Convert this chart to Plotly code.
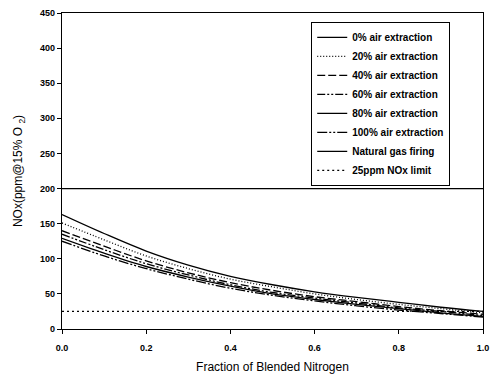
import plotly.graph_objects as go

x_frac = [0.0, 0.1, 0.2, 0.3, 0.4, 0.5, 0.6, 0.7, 0.8, 0.9, 1.0]
nox_0 = [163, 136, 111, 91, 75, 63, 53, 45, 38, 31, 25]
nox_20 = [151, 127, 104, 86, 71, 60, 50, 42, 35, 29, 23]
nox_40 = [140, 118, 97, 80, 66, 55, 46, 39, 32, 26, 21]
nox_60 = [135, 113, 93, 77, 63, 52, 44, 37, 30, 25, 19]
nox_80 = [129, 108, 89, 74, 61, 50, 42, 35, 29, 23, 18]
nox_100 = [125, 104, 86, 71, 58, 48, 40, 33, 27, 22, 17]
ng_x = [0.0, 1.0]
natural_gas = [200, 200]
limit_x = [0.0, 1.0]
limit_25 = [25, 25]

series = [
    ("0% air extraction", x_frac, nox_0, "solid"),
    ("20% air extraction", x_frac, nox_20, "1px,2px"),
    ("40% air extraction", x_frac, nox_40, "8px,3px"),
    ("60% air extraction", x_frac, nox_60, "8px,2px,2px,2px,2px,2px"),
    ("80% air extraction", x_frac, nox_80, "solid"),
    ("100% air extraction", x_frac, nox_100, "10px,2px,2px,2px,2px,2px"),
    ("Natural gas firing", ng_x, natural_gas, "solid"),
    ("25ppm NOx limit", limit_x, limit_25, "2px,3px"),
]

fig = go.Figure()
for name, xs, ys, dash in series:
    fig.add_trace(go.Scatter(
        x=xs, y=ys, name=name, mode="lines",
        line=dict(color="black", width=1.3, dash=dash, shape="spline"),
    ))

fig.update_layout(
    width=497, height=382,
    margin=dict(l=62, r=8, t=9, b=53),
    paper_bgcolor="white", plot_bgcolor="white",
    font=dict(family="Liberation Sans, Arial, sans-serif", color="black", size=9),
    showlegend=True,
    legend=dict(
        x=0.592, y=0.972, xanchor="left", yanchor="top",
        bgcolor="white", bordercolor="black", borderwidth=1,
        font=dict(size=10, weight="bold"),
        tracegroupgap=0, itemwidth=30,
    ),
    xaxis=dict(
        range=[0, 1.0], tickvals=[0, 0.2, 0.4, 0.6, 0.8, 1.0],
        ticktext=["0.0", "0.2", "0.4", "0.6", "0.8", "1.0"],
        ticks="outside", ticklen=4, tickwidth=1, tickcolor="black",
        ticklabelstandoff=6,
        showline=True, linecolor="black", linewidth=1.2, mirror=True,
        showgrid=False, zeroline=False,
        tickfont=dict(size=9, weight="bold"),
        title=dict(text="Fraction of Blended Nitrogen", font=dict(size=12), standoff=10),
    ),
    yaxis=dict(
        range=[0, 450], tickvals=[0, 50, 100, 150, 200, 250, 300, 350, 400, 450],
        ticks="outside", ticklen=4, tickwidth=1, tickcolor="black",
        showline=True, linecolor="black", linewidth=1.2, mirror=True,
        showgrid=False, zeroline=False,
        tickfont=dict(size=9, weight="bold"),
        title=dict(text="NOx(ppm@15% O <sub>2</sub>)", font=dict(size=12), standoff=14),
    ),
)

fig.write_html("out.html")
